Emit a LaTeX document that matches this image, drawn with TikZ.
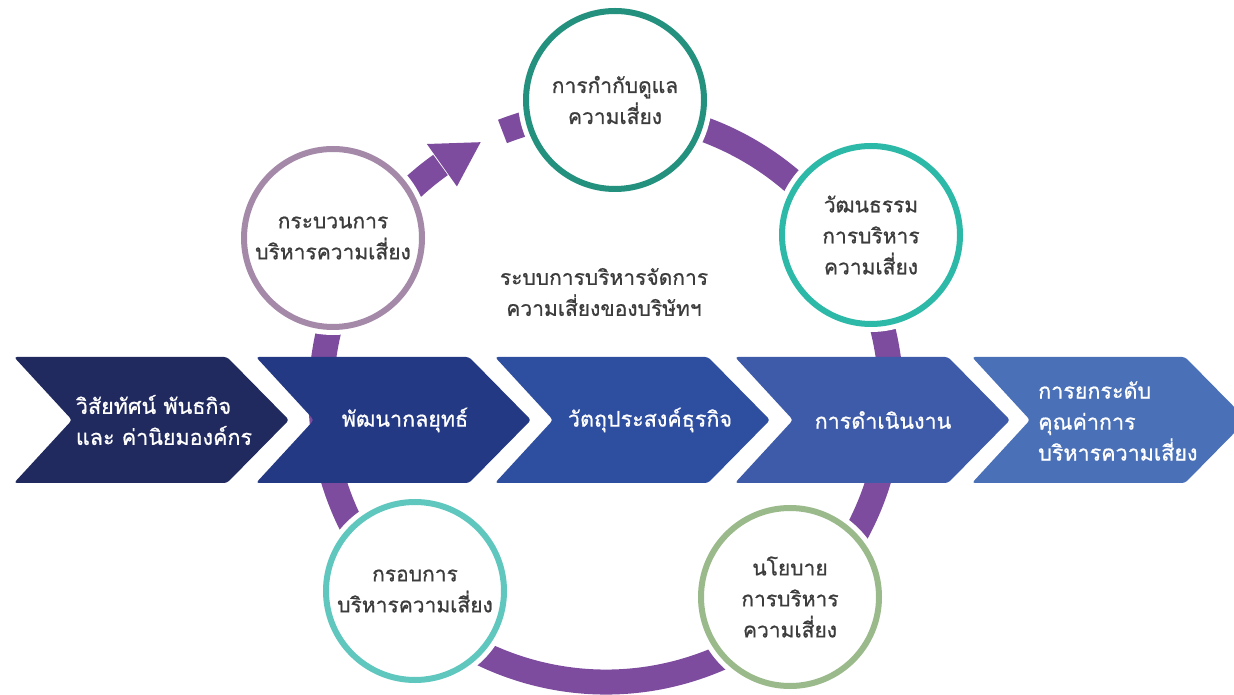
\documentclass[tikz,border=0pt]{standalone}
\usepackage{fontspec}
\newfontfamily\thaifont[Script=Thai,FakeBold=0.8]{Loma}
\usetikzlibrary{calc}
\definecolor{ringc}{HTML}{7E4C9E}
\definecolor{chA}{HTML}{212A5E}
\definecolor{chB}{HTML}{243983}
\definecolor{chC}{HTML}{2E4EA0}
\definecolor{chD}{HTML}{3D5BA9}
\definecolor{chE}{HTML}{4A71B8}
\definecolor{ciTop}{HTML}{24917F}
\definecolor{ciRT}{HTML}{2DB9A7}
\definecolor{ciL}{HTML}{A589A9}
\definecolor{ciBL}{HTML}{60C7BF}
\definecolor{ciBR}{HTML}{9BBA8B}
\definecolor{txt}{HTML}{3C3C3C}
\begin{document}
\begin{tikzpicture}[x=1pt,y=1pt,
  ring/.style={draw=ringc,line width=25pt},
  circnode/.style={circle,minimum size=178pt,inner sep=0pt,line width=6pt,fill=white,
     preaction={draw=white,line width=16pt},align=center,text=txt,
     font=\thaifont\fontsize{21}{31}\selectfont},
  chevtext/.style={text=white,inner sep=0pt,font=\thaifont\fontsize{21.5}{31}\selectfont},
  chevshape/.style={rounded corners=3pt}]
\useasboundingbox (0,0) rectangle (1234,694);
\clip (0,0) rectangle (1234,694);
\coordinate (O) at (606,297);
% ring
\draw[ring] ($(O)+(111.3:285)$) arc[start angle=111.3, end angle=-234.5, radius=285];
\fill[ringc] ($(O)+(125.3:258)$) -- ($(O)+(125.3:310)$) -- ($(O)+(116.2:284)$) -- cycle;
% circles
\node[circnode,draw=ciTop] (top) at (615,594) {การกำกับดูแล\\ความเสี่ยง};
\node[circnode,draw=ciL] (left) at (333,456) {กระบวนการ\\บริหารความเสี่ยง};
\node[circnode,draw=ciRT] (rtop) at (871,459) {วัฒนธรรม\\การบริหาร\\ความเสี่ยง};
\node[circnode,draw=ciBL] (bleft) at (415,103) {กรอบการ\\บริหารความเสี่ยง};
\node[circnode,draw=ciBR] (bright) at (790,97) {นโยบาย\\การบริหาร\\ความเสี่ยง};
% center text
\node[align=center,text=txt,font=\thaifont\fontsize{21}{31}\selectfont] (ctr) at (604,402) {ระบบการบริหารจัดการ\\ความเสี่ยงของบริษัทฯ};
% chevrons
\fill[chA,chevshape] (14,337) -- (227,337) -- (289,274) -- (227,211) -- (14,211) -- (72,274) -- cycle;
\fill[chB,chevshape] (256,337) -- (469,337) -- (531,274) -- (469,211) -- (256,211) -- (314,274) -- cycle;
\fill[chC,chevshape] (495,337) -- (708,337) -- (770,274) -- (708,211) -- (495,211) -- (553,274) -- cycle;
\fill[chD,chevshape] (735,337) -- (948,337) -- (1010,274) -- (948,211) -- (735,211) -- (793,274) -- cycle;
\fill[chE,chevshape] (972,337) -- (1185,337) -- (1247,274) -- (1185,211) -- (972,211) -- (1030,274) -- cycle;
\node[chevtext,align=left] (t1) at (164,274) {วิสัยทัศน์ พันธกิจ\\และ ค่านิยมองค์กร};
\node[chevtext] (t2) at (405,274) {พัฒนากลยุทธ์};
\node[chevtext] (t3) at (650,274) {วัตถุประสงค์ธุรกิจ};
\node[chevtext] (t4) at (883,274) {การดำเนินงาน};
\node[chevtext,align=left,anchor=west] (t5) at (1038,273) {การยกระดับ\\คุณค่าการ\\บริหารความเสี่ยง};
\end{tikzpicture}
\end{document}
